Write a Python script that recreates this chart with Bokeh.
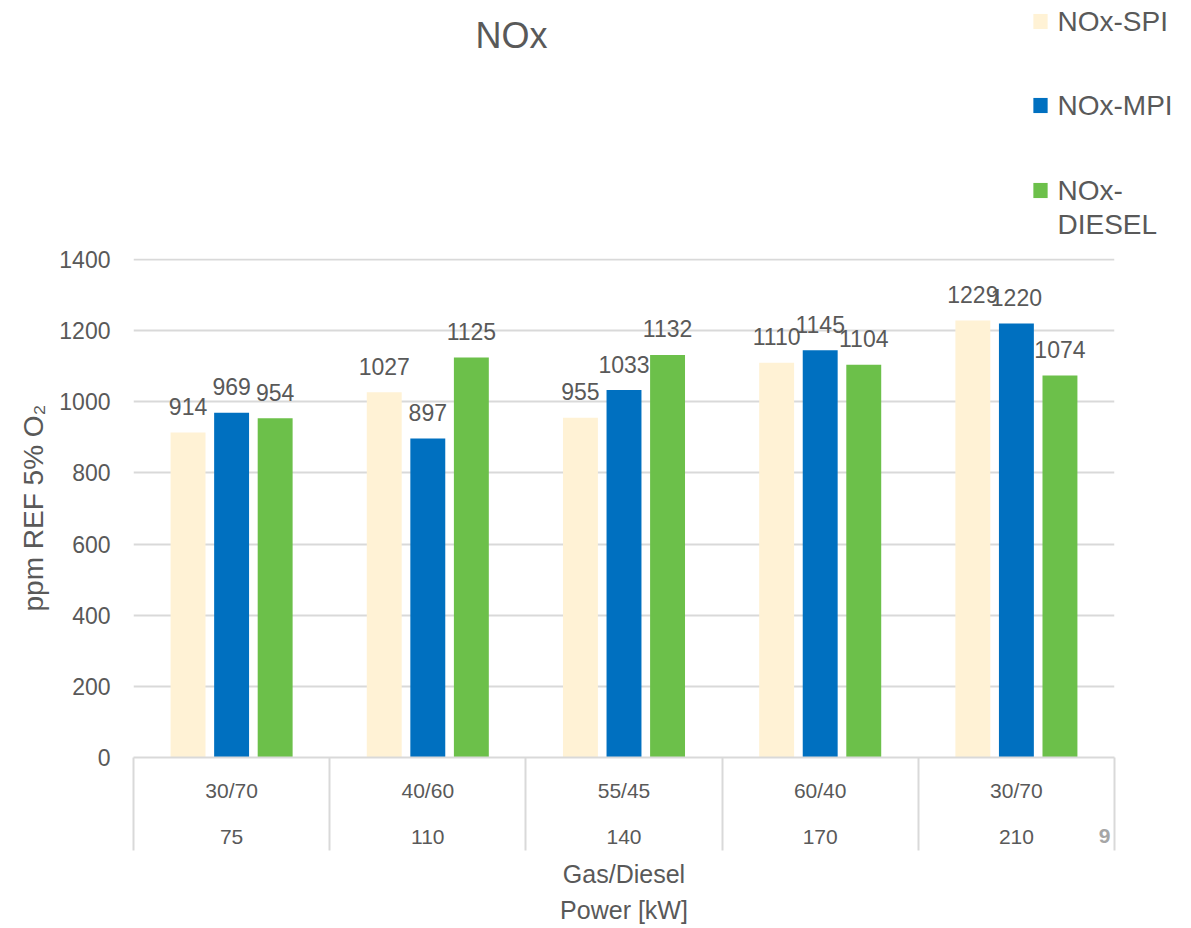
from bokeh.plotting import figure
from bokeh.models import (ColumnDataSource, Range1d, FixedTicker, Label)
from bokeh.transform import dodge
from bokeh.embed import file_html
from bokeh.resources import INLINE

# ---- data ----
ratios = ["30/70", "40/60", "55/45", "60/40", "30/70"]
powers = ["75", "110", "140", "170", "210"]
nox_spi = [914, 1027, 955, 1110, 1229]
nox_mpi = [969, 897, 1033, 1145, 1220]
nox_diesel = [954, 1125, 1132, 1104, 1074]
series_names = ["NOx-SPI", "NOx-MPI", "NOx-\nDIESEL"]
y_ticks = [0, 200, 400, 600, 800, 1000, 1200, 1400]

FONT = "Liberation Sans"
TXT = "#595959"
GRID = "#D9D9D9"
colors = ["#FFF2D5", "#0070C0", "#6CC04A"]

n = len(powers)
pos = [i + 0.5 for i in range(n)]
src = ColumnDataSource(dict(
    x=pos, spi=nox_spi, mpi=nox_mpi, diesel=nox_diesel,
    spi_t=[str(v) for v in nox_spi], mpi_t=[str(v) for v in nox_mpi],
    diesel_t=[str(v) for v in nox_diesel]))

p = figure(width=1191, height=928, output_backend="svg", toolbar_location=None,
           x_range=Range1d(0, n), y_range=Range1d(0, 1403),
           min_border_left=133, min_border_right=77, min_border_top=258, min_border_bottom=171)
p.outline_line_color = None
p.background_fill_color = "white"
p.border_fill_color = "white"

# ---- title (canvas units, in the panel above the frame) ----
p.add_layout(Label(x=511, y=35, x_units="canvas", y_units="canvas", text="NOx",
                   text_align="center", text_baseline="middle", text_font=FONT,
                   text_font_size="36px", text_color=TXT), "above")

# ---- legend built from labels (panel above the frame) ----
leg_y = [21, 105, 190]
for nm, col, sy in zip(series_names, colors, leg_y):
    p.add_layout(Label(x=1040, y=sy, x_units="canvas", y_units="canvas", text=" ",
                       text_align="center", text_baseline="middle", text_font=FONT,
                       text_font_size="1px", padding=7, background_fill_color=col,
                       text_color=col), "above")
    for k, line in enumerate(nm.split("\n")):
        p.add_layout(Label(x=1057, y=sy + 34 * k, x_units="canvas", y_units="canvas", text=line,
                           text_align="left", text_baseline="middle", text_font=FONT,
                           text_font_size="28px", text_color=TXT), "above")

# ---- page number ----
p.add_layout(Label(x=1104, y=835, x_units="canvas", y_units="canvas", text="9",
                   text_align="center", text_baseline="middle", text_font=FONT,
                   text_font_size="21px", text_font_style="bold", text_color="#A6A6A6"), "right")

bw = 0.178
offs = [-0.222, 0.0, 0.222]
cols = ["spi", "mpi", "diesel"]
for c, o, col in zip(cols, offs, colors):
    p.vbar(x=dodge("x", o, range=p.x_range), top=c, width=bw, source=src,
           fill_color=col, line_color=None)
    p.text(x=dodge("x", o, range=p.x_range), y=c, text=c + "_t", source=src,
           text_align="center", text_baseline="alphabetic", y_offset=-26,
           text_font={"value": FONT}, text_font_size="23px", text_color=TXT)

# ---- y axis ----
p.yaxis.ticker = FixedTicker(ticks=y_ticks)
p.yaxis.axis_line_color = None
p.yaxis.major_tick_line_color = None
p.yaxis.minor_tick_line_color = None
p.yaxis.major_label_text_font = FONT
p.yaxis.major_label_text_font_size = "23px"
p.yaxis.major_label_text_color = TXT
p.yaxis.major_label_standoff = 17
p.yaxis.axis_label = "ppm REF 5% O\u2082"
p.yaxis.axis_label_text_font = FONT
p.yaxis.axis_label_text_font_size = "28px"
p.yaxis.axis_label_text_font_style = "normal"
p.yaxis.axis_label_text_color = TXT
p.yaxis.axis_label_standoff = 7

# ---- x axis (two-level category labels) ----
p.xaxis.ticker = FixedTicker(ticks=pos, minor_ticks=list(range(n + 1)))
p.xaxis.major_label_overrides = {pv: f"{r}\n\n{pw}" for pv, r, pw in zip(pos, ratios, powers)}
p.xaxis.axis_line_color = GRID
p.xaxis.axis_line_width = 2
p.xaxis.major_tick_line_color = None
p.xaxis.minor_tick_line_color = GRID
p.xaxis.minor_tick_line_width = 2
p.xaxis.minor_tick_out = 93
p.xaxis.minor_tick_in = 0
p.xaxis.major_label_text_font = FONT
p.xaxis.major_label_text_font_size = "21px"
p.xaxis.major_label_text_line_height = 1.0
p.xaxis.major_label_text_color = TXT
p.xaxis.major_label_standoff = -72
p.xaxis.axis_label = "Gas/Diesel\nPower [kW]"
p.xaxis.axis_label_text_font = FONT
p.xaxis.axis_label_text_font_size = "25px"
p.xaxis.axis_label_text_line_height = 1.3
p.xaxis.axis_label_text_font_style = "normal"
p.xaxis.axis_label_text_color = TXT
p.xaxis.axis_label_standoff = 9

p.xgrid.grid_line_color = None
p.ygrid.ticker = FixedTicker(ticks=y_ticks)
p.ygrid.grid_line_color = GRID
p.ygrid.grid_line_width = 2

open("out.html", "w").write(file_html(p, INLINE))
